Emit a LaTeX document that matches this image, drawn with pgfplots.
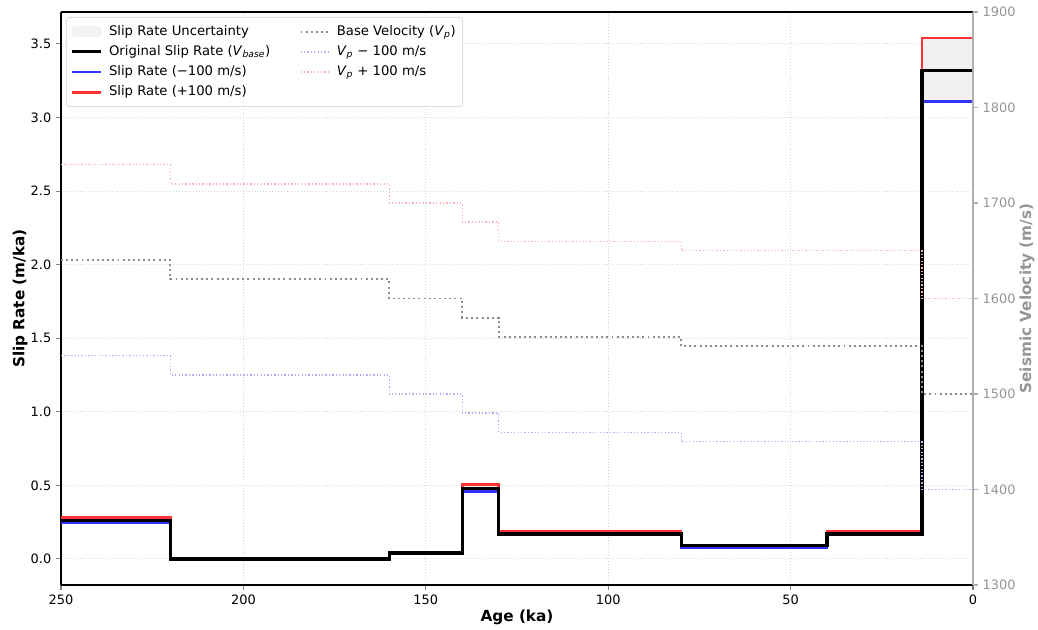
\documentclass[border=0pt]{standalone}
\usepackage{fontspec}
\setmainfont{DejaVu Sans}
\usepackage{pgfplots}
\usepackage{pgfplotstable}
\pgfplotsset{compat=1.18}
\usepgfplotslibrary{fillbetween}

\definecolor{slipred}{RGB}{255,51,51}
\definecolor{slipblue}{RGB}{51,51,255}
\definecolor{velgray}{RGB}{140,140,140}
\definecolor{velblue}{RGB}{175,175,255}
\definecolor{velred}{RGB}{255,175,175}
\definecolor{uncfill}{RGB}{240,240,240}
\definecolor{rightgray}{RGB}{150,150,150}
\definecolor{spinegray}{RGB}{175,175,175}
\definecolor{gridgray}{RGB}{215,215,215}
\definecolor{legframe}{RGB}{204,204,204}

\pgfplotstableread{
age base minus plus
250 0.26 0.245 0.28
220 0.00 0.000 0.005
160 0.04 0.040 0.045
140 0.48 0.460 0.505
130 0.17 0.165 0.185
80 0.09 0.080 0.095
40 0.17 0.165 0.190
14 3.32 3.11 3.54
0 3.32 3.11 3.54
}\sliptable

\pgfplotstableread{
age base minus plus
250 1640 1540 1740
220 1620 1520 1720
160 1600 1500 1700
140 1580 1480 1680
130 1560 1460 1660
80 1550 1450 1650
14 1500 1400 1600
0 1500 1400 1600
}\veltable

\pgfplotsset{common/.style={
  scale only axis, width=656.64bp, height=412.56bp,
  xmin=0, xmax=250, x dir=reverse,
  tick align=outside, major tick length=3.5bp,
  every tick/.append style={line width=0.75bp},
  axis line style={line width=1bp},
  /pgf/number format/assume math mode=true,
  tick label style={font=\fontsize{9.3bp}{11bp}\selectfont},
  label style={font=\fontsize{11bp}{13bp}\selectfont\bfseries},
}}

\begin{document}
\begin{tikzpicture}
\begin{axis}[common, name=sax,
  ymin=-0.177, ymax=3.717,
  axis x line*=box, axis y line*=left,
  xtick={0,50,...,250}, xtick pos=bottom,
  ytick={0,0.5,...,3.5}, ytick pos=left,
  yticklabel style={/pgf/number format/.cd, fixed, fixed zerofill, precision=1},
  grid=major, grid style={gridgray, line width=0.7bp, dash pattern=on 0.7bp off 1.4bp},
  xlabel={Age (ka)},
  xlabel style={at={(axis description cs:0.5,-0.0558)}, anchor=center},
  ylabel={Slip Rate (m/ka)},
  ylabel style={at={(axis description cs:-0.0449,0.5)}, anchor=center},
]
\addplot[const plot, draw=none, name path=sp] table[x=age,y=plus]{\sliptable};
\addplot[const plot, draw=none, name path=sm] table[x=age,y=minus]{\sliptable};
\addplot[fill=uncfill, draw=none] fill between[of=sp and sm];
\addplot[const plot, slipblue, line width=1.9bp] table[x=age,y=minus]{\sliptable};
\addplot[const plot, slipred, line width=1.9bp] table[x=age,y=plus]{\sliptable};
\addplot[const plot, black, line width=2.3bp] table[x=age,y=base]{\sliptable};
\end{axis}

\begin{axis}[common,
  ymin=1300, ymax=1900,
  axis x line=none, axis y line*=right,
  ytick={1300,1400,...,1900},
  yticklabel style={color=rightgray, /pgf/number format/1000 sep={}},
  y axis line style={spinegray},
  ytick style={spinegray},
  ylabel={Seismic Velocity (m/s)},
  ylabel style={color=rightgray, at={(axis description cs:1.0592,0.5)}, anchor=center},
  legend columns=2,
  legend cell align=left,
  legend image code/.code={\draw[#1] (0bp,0bp) -- (21bp,0bp);},
  legend style={at={(axis description cs:0,1)}, anchor=north west,
    xshift=3.6bp, yshift=-3.6bp, draw=legframe, rounded corners=2.5bp,
    fill=white, fill opacity=0.8, draw opacity=1, text opacity=1,
    font=\fontsize{9.5bp}{11bp}\selectfont,
    inner xsep=3bp, inner ysep=3bp,
    nodes={inner ysep=2.8bp, text height=7bp, text depth=2bp},
    /tikz/every odd column/.append style={column sep=2.5bp},
    /tikz/every even column/.append style={column sep=19bp}},
]
\addplot[const plot, velgray, line width=1.4bp, dash pattern=on 1.4bp off 2.3bp, forget plot] table[x=age,y=base]{\veltable};
\addplot[const plot, velblue, line width=0.93bp, dash pattern=on 0.93bp off 1.53bp, forget plot] table[x=age,y=minus]{\veltable};
\addplot[const plot, velred, line width=0.93bp, dash pattern=on 0.93bp off 1.53bp, forget plot] table[x=age,y=plus]{\veltable};

\addlegendimage{legend image code/.code={\fill[uncfill] (0bp,-3.6bp) rectangle (21bp,3.6bp);}}
\addlegendentry{Slip Rate Uncertainty}
\addlegendimage{velgray, line width=1.4bp, dash pattern=on 1.4bp off 2.3bp}
\addlegendentry{Base Velocity (\textit{V}\textsubscript{\textit{p}})}
\addlegendimage{black, line width=2.3bp}
\addlegendentry{Original Slip Rate (\textit{V}\textsubscript{\textit{base}})}
\addlegendimage{velblue, line width=0.93bp, dash pattern=on 0.93bp off 1.53bp}
\addlegendentry{\textit{V}\textsubscript{\textit{p}} − 100 m/s}
\addlegendimage{slipblue, line width=1.9bp}
\addlegendentry{Slip Rate (−100 m/s)}
\addlegendimage{velred, line width=0.93bp, dash pattern=on 0.93bp off 1.53bp}
\addlegendentry{\textit{V}\textsubscript{\textit{p}} + 100 m/s}
\addlegendimage{slipred, line width=1.9bp}
\addlegendentry{Slip Rate (+100 m/s)}
\end{axis}

\pgfresetboundingbox
\path ([xshift=-43.92bp,yshift=-31.68bp]sax.south west) rectangle ([xshift=46.8bp,yshift=8.64bp]sax.north east);
\end{tikzpicture}
\end{document}
